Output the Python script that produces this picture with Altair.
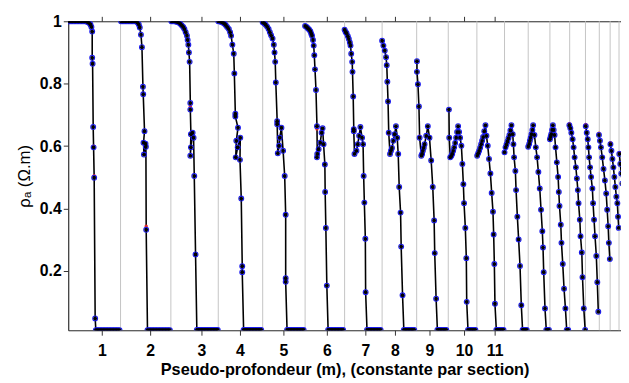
import altair as alt
import pandas as pd

# ---- data: horizontal position (arbitrary index units) and apparent resistivity per section ----
sec1_x = [0, 1.5, 3, 4.5, 6, 7.5, 9, 10.5, 12, 13.5, 15, 16.5, 18, 19.5, 21, 22.5, 23.5, 24.3, 24.3, 24.7, 25.3, 25.7, 26.3, 27.3, 28,
          29.5, 31, 32.5, 34, 35.5, 37, 38.5, 40, 41.5, 43, 44.5, 46, 47.5, 49, 50.5, 52]
sec1_y = [1.0, 1.0, 1.0, 1.0, 1.0, 1.0, 1.0, 1.0, 1.0, 1.0, 1.0, 1.0, 1.0, 0.998, 0.995, 0.99, 0.982, 0.967, 0.883, 0.864, 0.661, 0.596, 0.499, 0.048, 0.01,
          0.01, 0.01, 0.01, 0.01, 0.01, 0.01, 0.01, 0.01, 0.01, 0.01, 0.01, 0.01, 0.01, 0.01, 0.01, 0.01]

sec2_x = [53.5, 55, 56.5, 58, 59.5, 61, 62.5, 64, 65.5, 67, 68.5, 70, 71.5, 72.5, 73.7, 74.7, 75.7, 76, 77.3, 76.3, 76.7, 78.3, 78.7, 79, 80.3,
          82, 83.5, 85, 86.5, 88, 89.5, 91, 92.5, 94, 95.5, 97, 98.5, 100, 101.5, 103]
sec2_y = [1.0, 1.0, 1.0, 1.0, 1.0, 1.0, 1.0, 1.0, 1.0, 1.0, 1.0, 0.997, 0.99, 0.98, 0.957, 0.917, 0.79, 0.766, 0.648, 0.611, 0.573, 0.608, 0.598, 0.332, 0.01,
          0.01, 0.01, 0.01, 0.01, 0.01, 0.01, 0.01, 0.01, 0.01, 0.01, 0.01, 0.01, 0.01, 0.01, 0.01]

sec3_x = [104.5, 106, 107.5, 109, 110.5, 112, 113.5, 115, 116.5, 117.7, 119, 120.3, 121, 121.7, 122.3, 123, 123.7, 123.7, 124.3, 123.7, 124.3, 126, 127, 127.7, 129, 130.3,
          132, 133.5, 135, 136.5, 138, 139.5, 141, 142.5, 144, 145.5, 147, 148.5, 150, 151.5]
sec3_y = [1.0, 1.0, 1.0, 0.999, 0.998, 0.996, 0.992, 0.987, 0.982, 0.975, 0.965, 0.954, 0.94, 0.925, 0.9, 0.87, 0.738, 0.717, 0.638, 0.569, 0.596, 0.643, 0.627, 0.504, 0.253, 0.011,
          0.011, 0.011, 0.011, 0.011, 0.011, 0.011, 0.011, 0.011, 0.011, 0.011, 0.011, 0.011, 0.011, 0.011]

sec4_x = [152, 153.5, 155, 156.5, 158, 159.5, 161, 162.7, 164, 165, 166.3, 167.7, 168.3, 169.3, 169.3, 172, 170.3, 169.7, 171.7, 174.3, 174, 175.3, 176.3, 176.3, 177.7,
          179, 180.5, 182, 183.5, 185, 186.5, 188, 189.5, 191, 192.5, 194, 195.5]
sec4_y = [1.0, 1.0, 0.998, 0.996, 0.993, 0.988, 0.982, 0.975, 0.965, 0.954, 0.925, 0.896, 0.833, 0.704, 0.695, 0.659, 0.617, 0.564, 0.596, 0.627, 0.556, 0.432, 0.215, 0.196, 0.011,
          0.011, 0.011, 0.011, 0.011, 0.011, 0.011, 0.011, 0.011, 0.011, 0.011, 0.011, 0.011]

sec5_x = [197, 198.5, 200, 201.5, 203, 204.3, 205.5, 207, 208.3, 209, 209.7, 210.3, 211.7, 211.7, 212.3, 213.7, 214.3, 216, 217.7, 219.3, 220.3, 220.3, 220.3, 221.7,
          223.5, 225, 226.5, 228, 229.5, 231, 232.5, 234, 235.5, 237, 238.5]
sec5_y = [0.997, 0.994, 0.989, 0.983, 0.975, 0.965, 0.955, 0.945, 0.925, 0.9, 0.87, 0.804, 0.68, 0.67, 0.577, 0.601, 0.627, 0.659, 0.585, 0.504, 0.38, 0.177, 0.165, 0.011,
          0.011, 0.011, 0.011, 0.011, 0.011, 0.011, 0.011, 0.011, 0.011, 0.011, 0.011]

sec6_x = [240, 241.5, 242.7, 244, 245.3, 246.2, 247, 248, 248.7, 249.3, 250, 251, 252, 252.3, 252, 253.7, 255.3, 256.7, 257.7, 258.7, 260, 260.3, 261, 262, 263.3,
          265, 266.5, 268, 269.5, 271, 272.5, 274, 275.5, 277, 278.5]
sec6_y = [0.985, 0.982, 0.978, 0.974, 0.968, 0.96, 0.954, 0.94, 0.922, 0.891, 0.846, 0.78, 0.664, 0.575, 0.564, 0.59, 0.611, 0.643, 0.657, 0.606, 0.541, 0.453, 0.338, 0.153, 0.011,
          0.011, 0.011, 0.011, 0.011, 0.011, 0.011, 0.011, 0.011, 0.011, 0.011]

sec7_x = [280, 281, 282, 283.3, 284.3, 285.3, 286, 286.7, 287.7, 288, 288.7, 289.3, 289.3, 290, 292, 293.3, 294.7, 296, 297.7, 298.7, 299.3, 300, 301, 301.3, 302.7,
          304.5, 306, 307.5, 309, 310.5, 312, 313.5, 315, 316.5]
sec7_y = [0.973, 0.966, 0.962, 0.952, 0.943, 0.932, 0.922, 0.896, 0.87, 0.838, 0.759, 0.654, 0.648, 0.575, 0.585, 0.606, 0.633, 0.661, 0.627, 0.606, 0.504, 0.419, 0.303, 0.132, 0.011,
          0.011, 0.011, 0.011, 0.011, 0.011, 0.011, 0.011, 0.011, 0.011]

sec8_x = [318, 319.3, 320.7, 322, 322.7, 323.3, 324, 324.7, 326, 327, 328, 329.3, 330.7, 332, 333.3, 334.3, 335.3, 336.7, 337.3, 338.7, 340,
          341.5, 343, 344.5, 346, 347.5, 349, 350.5]
sec8_y = [0.938, 0.922, 0.906, 0.885, 0.859, 0.806, 0.743, 0.643, 0.575, 0.585, 0.594, 0.617, 0.638, 0.664, 0.627, 0.575, 0.469, 0.387, 0.278, 0.122, 0.011,
          0.011, 0.011, 0.011, 0.011, 0.011, 0.011, 0.011]

sec9_x = [353.3, 353.3, 354.3, 355.3, 356, 357.7, 358.5, 359.3, 360.2, 361, 362.7, 364.3, 366, 367.7, 369.3, 370.7, 371.3, 372.7, 374,
          375.5, 377, 378.5, 380, 381.5, 383]
sec9_y = [0.872, 0.838, 0.798, 0.727, 0.627, 0.569, 0.575, 0.585, 0.595, 0.606, 0.633, 0.664, 0.627, 0.554, 0.469, 0.362, 0.257, 0.111, 0.011,
          0.011, 0.011, 0.011, 0.011, 0.011, 0.011]

sec10_x = [385.7, 386, 387, 388, 389, 390, 391, 392, 393, 394, 395, 396, 397, 398.3, 399.3, 400.3, 401, 402.3, 403.3, 403.7, 405,
           406.5, 408, 409.5, 411, 412.5]
sec10_y = [0.717, 0.627, 0.564, 0.568, 0.575, 0.585, 0.596, 0.61, 0.627, 0.645, 0.664, 0.645, 0.627, 0.601, 0.543, 0.478, 0.417, 0.338, 0.241, 0.101, 0.011,
           0.011, 0.011, 0.011, 0.011, 0.011]

sec11_x = [414.3, 415.3, 416.3, 417.3, 418.3, 419.3, 420.3, 421.5, 422.7, 423.7, 425, 426.3, 427.7, 429, 430.3, 431, 431.7, 432.3, 433.7,
           435, 436.5, 438, 439.5, 441]
sec11_y = [0.569, 0.577, 0.585, 0.595, 0.606, 0.617, 0.629, 0.648, 0.667, 0.633, 0.601, 0.559, 0.512, 0.45, 0.39, 0.317, 0.222, 0.095, 0.011,
           0.011, 0.011, 0.011, 0.011, 0.011]

sec12_x = [442, 443, 444, 445, 446, 447, 448, 449, 450.3, 451, 451.7, 453, 453.7, 455, 456.3, 457.7, 459, 460.3, 461.5, 463, 464.5]
sec12_y = [0.58, 0.596, 0.605, 0.615, 0.625, 0.636, 0.65, 0.667, 0.638, 0.606, 0.564, 0.52, 0.459, 0.374, 0.301, 0.216, 0.09, 0.011, 0.011, 0.011, 0.011]

sec13_x = [466, 467, 467.7, 468.5, 469.3, 470.2, 471, 472.3, 473.7, 475, 476.3, 477.7, 479, 480.3, 481, 481.7, 483, 484.3, 485.5, 487]
sec13_y = [0.598, 0.607, 0.617, 0.627, 0.638, 0.652, 0.667, 0.636, 0.596, 0.564, 0.517, 0.464, 0.396, 0.327, 0.275, 0.196, 0.08, 0.011, 0.011, 0.011]

sec14_x = [488, 488.7, 489.3, 490.2, 491, 491.8, 492.7, 493.7, 495, 496.3, 497, 497.7, 499, 499.7, 501, 502.3, 503.7, 505, 506.5]
sec14_y = [0.622, 0.63, 0.638, 0.652, 0.667, 0.652, 0.636, 0.596, 0.548, 0.501, 0.453, 0.408, 0.348, 0.29, 0.222, 0.143, 0.08, 0.011, 0.011]

sec15_x = [507.7, 508.7, 509.7, 511, 512, 513, 514.3, 515.3, 516.3, 517, 518.3, 519, 520.3, 521, 522.3, 523.7]
sec15_y = [0.667, 0.657, 0.643, 0.622, 0.596, 0.564, 0.532, 0.496, 0.459, 0.417, 0.364, 0.311, 0.259, 0.18, 0.08, 0.011]

sec16_x = [524.3, 525.3, 526.3, 527, 527.7, 528.7, 529.7, 531, 531.7, 532.7, 533.7, 535, 536, 537]
sec16_y = [0.664, 0.643, 0.622, 0.596, 0.564, 0.532, 0.501, 0.464, 0.417, 0.364, 0.311, 0.248, 0.164, 0.069]

sec17_x = [537.7, 538.7, 539.7, 541, 542.3, 543.7, 545, 546, 547, 547.7, 548.7]
sec17_y = [0.636, 0.617, 0.596, 0.564, 0.527, 0.49, 0.448, 0.396, 0.343, 0.29, 0.238]

sec18_x = [549.3, 550.3, 551.3, 552.3, 553.3, 554.3, 555.3, 556.3, 557, 557.7]
sec18_y = [0.606, 0.585, 0.559, 0.532, 0.501, 0.469, 0.438, 0.417, 0.374, 0.338]

sec19_x = [558.3, 559.3, 560.3, 561.3]
sec19_y = [0.575, 0.543, 0.512, 0.48]

# points where the third (red) series shows through
red_x = [25.7, 26.3, 79, 123.7, 169.3, 211.7, 252, 289.3, 324.7, 356, 507.7, 524.3, 537.7, 549.3, 558.3]
red_y = [0.6, 0.505, 0.343, 0.727, 0.70, 0.675, 0.655, 0.65, 0.64, 0.632, 0.672, 0.669, 0.641, 0.611, 0.58]

# section boundaries (grid lines) and axis ticks
section_bounds = [53, 104, 152, 197, 240, 280, 318, 353, 385, 414, 442, 466, 488, 508, 524, 538, 549, 558]
tick_pos = [34, 83, 135, 174, 218, 262, 301, 331, 366, 401, 432]
tick_lab = ["1", "2", "3", "4", "5", "6", "7", "8", "9", "10", "11"]
y_ticks = [0.2, 0.4, 0.6, 0.8, 1.0]

sections = [(sec1_x, sec1_y), (sec2_x, sec2_y), (sec3_x, sec3_y), (sec4_x, sec4_y), (sec5_x, sec5_y),
            (sec6_x, sec6_y), (sec7_x, sec7_y), (sec8_x, sec8_y), (sec9_x, sec9_y), (sec10_x, sec10_y),
            (sec11_x, sec11_y), (sec12_x, sec12_y), (sec13_x, sec13_y), (sec14_x, sec14_y), (sec15_x, sec15_y),
            (sec16_x, sec16_y), (sec17_x, sec17_y), (sec18_x, sec18_y), (sec19_x, sec19_y)]

rows = []
for s, (xs, ys) in enumerate(sections):
    for i, (xv, yv) in enumerate(zip(xs, ys)):
        rows.append({"sec": s + 1, "i": i, "x": xv, "rho": yv})
df = pd.DataFrame(rows)
red_df = pd.DataFrame({"x": red_x, "rho": red_y})
bound_df = pd.DataFrame({"b": section_bounds})

FONT = "Liberation Sans"
xscale = alt.Scale(domain=[0, 560], nice=False, zero=False)
yscale = alt.Scale(domain=[0.01, 1.0], nice=False, zero=False)

label_expr = ("[" + ",".join("'%s'" % l for l in tick_lab) + "][indexof(["
              + ",".join(str(p) for p in tick_pos) + "], datum.value)]")

x_bottom = alt.Axis(orient="bottom", values=tick_pos, labelExpr=label_expr,
                    title="Pseudo-profondeur (m), (constante par section)",
                    grid=False, tickSize=5, tickColor="#333333", domainColor="#333333",
                    domainWidth=1.2, labelFont=FONT, labelFontSize=16, labelFontWeight="bold",
                    labelColor="black", labelPadding=8, titleFont=FONT, titleFontSize=16.5,
                    titleFontWeight="bold", titleColor="black", titlePadding=3)
x_top = alt.Axis(orient="top", values=tick_pos, labels=False, title=None, grid=False,
                 tickSize=5, tickColor="#333333", domainColor="#333333", domainWidth=1.2)
y_axis = alt.Axis(orient="left", values=y_ticks, format="~g", title="ρₐ (Ω.m)", grid=False, tickSize=5,
                  tickColor="#333333", domainColor="#333333", domainWidth=1.2,
                  labelFont=FONT, labelFontSize=16, labelFontWeight="bold", labelColor="black",
                  labelPadding=2, titleFont=FONT, titleFontSize=17, titleFontWeight="normal",
                  titleColor="black", titlePadding=6)

Y = alt.Y("rho:Q", scale=yscale, axis=y_axis)

grid = alt.Chart(bound_df).mark_rule(color="#c4c4c4", strokeWidth=1).encode(
    x=alt.X("b:Q", scale=xscale, axis=x_top)
)
line = alt.Chart(df).mark_line(color="black", strokeWidth=1.6, clip=True).encode(
    x=alt.X("x:Q", scale=xscale, axis=x_bottom),
    y=Y,
    detail="sec:N",
    order="i:Q",
)
blue = alt.Chart(df).mark_point(shape="circle", filled=False, color="#1c1cf0", size=24,
                                strokeWidth=1.1, clip=True, opacity=1).encode(
    x=alt.X("x:Q", scale=xscale, axis=None),
    y=Y,
)
red = alt.Chart(red_df).mark_circle(color="#e02828", size=12, opacity=1, clip=True).encode(
    x=alt.X("x:Q", scale=xscale, axis=None),
    y=Y,
)
black = alt.Chart(df).mark_circle(color="black", size=15, opacity=1, clip=True).encode(
    x=alt.X("x:Q", scale=xscale, axis=None),
    y=Y,
)

chart = alt.layer(grid, line, red, blue, black).resolve_axis(x="independent").properties(
    width=560, height=313,
    autosize=alt.AutoSizeParams(type="none"),
    padding={"left": 61, "top": 11, "right": 0, "bottom": 52},
).configure_view(stroke=None).configure(background="white")

chart.save("out.html", embed_options={"renderer": "svg", "actions": False})
